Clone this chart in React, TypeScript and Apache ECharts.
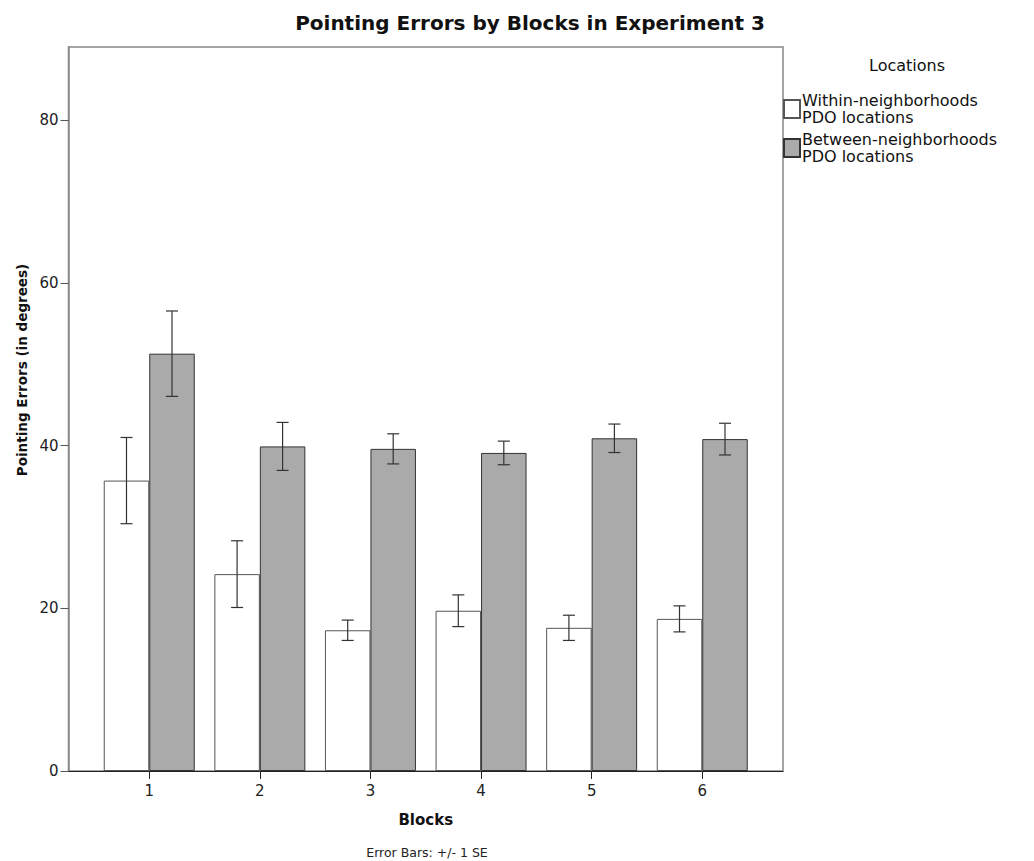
import React, { useEffect, useRef } from "react";
import * as echarts from "echarts";

// Blocks on the x axis
const blocks = [1, 2, 3, 4, 5, 6];
const blockTicks = ["1", "2", "3", "4", "5", "6"];

// Y axis ticks
const yTicks = [0, 20, 40, 60, 80];

// Mean pointing errors (degrees)
const withinMeans = [35.7, 24.2, 17.3, 19.7, 17.6, 18.7];
const betweenMeans = [51.3, 39.9, 39.6, 39.1, 40.9, 40.8];

// Standard errors (+/- 1 SE)
const withinSE = [5.3, 4.1, 1.25, 1.95, 1.55, 1.6];
const betweenSE = [5.25, 2.95, 1.85, 1.45, 1.75, 1.95];

const seriesNames = ["Within-neighborhoods\nPDO locations", "Between-neighborhoods\nPDO locations"];

const FONT = "DejaVu Sans";
const BAR_W = 45.5;

function errorSeries(means: number[], se: number[], offset: number) {
  return {
    type: "custom",
    silent: true,
    z: 5,
    data: blocks.map((b, i) => [b, means[i] - se[i], means[i] + se[i]]),
    renderItem: (params: any, api: any) => {
      const x = api.value(0);
      const lo = api.coord([x, api.value(1)]);
      const hi = api.coord([x, api.value(2)]);
      const cx = lo[0] + offset;
      const cap = 6;
      const style = { stroke: "#333", lineWidth: 1.2 };
      return {
        type: "group",
        children: [
          { type: "line", shape: { x1: cx, y1: lo[1], x2: cx, y2: hi[1] }, style },
          { type: "line", shape: { x1: cx - cap, y1: lo[1], x2: cx + cap, y2: lo[1] }, style },
          { type: "line", shape: { x1: cx - cap, y1: hi[1], x2: cx + cap, y2: hi[1] }, style },
        ],
      };
    },
  };
}

export default function App() {
  const ref = useRef<HTMLDivElement>(null);

  useEffect(() => {
    document.body.style.margin = "0";
    const chart = echarts.init(ref.current!, null, { renderer: "svg" });
    chart.setOption({
      animation: false,
      backgroundColor: "#fff",
      textStyle: { fontFamily: FONT },
      title: {
        text: "Pointing Errors by Blocks in Experiment 3",
        left: 525,
        top: 8,
        textAlign: "center",
        textStyle: { fontFamily: FONT, fontSize: 20, fontWeight: "bold", color: "#111" },
      },
      legend: {
        orient: "vertical",
        left: 783,
        top: 92,
        padding: 0,
        itemWidth: 16,
        itemHeight: 18,
        itemGap: 5,
        icon: "rect",
        data: seriesNames,
        textStyle: { fontFamily: FONT, fontSize: 16, color: "#111", lineHeight: 17, padding: [0, 0, 0, -3] },
      },
      grid: {
        left: 68.5,
        right: 251,
        top: 47,
        bottom: 90,
        show: true,
        borderColor: "#888",
        borderWidth: 1.5,
        containLabel: false,
      },
      xAxis: {
        type: "value",
        min: 0.27,
        max: 6.73,
        name: "Blocks",
        nameLocation: "middle",
        nameGap: 41,
        nameTextStyle: { fontFamily: FONT, fontSize: 15, fontWeight: "bold", color: "#111" },
        axisLine: { show: true, lineStyle: { color: "#222", width: 1 } },
        axisTick: {
          show: true,
          length: 8,
          customValues: blocks,
          lineStyle: { color: "#222" },
        },
        axisLabel: {
          customValues: blocks,
          formatter: (v: number) => blockTicks[blocks.indexOf(Math.round(v))] ?? "",
          fontFamily: FONT,
          fontSize: 15,
          color: "#222",
          margin: 12,
        },
        splitLine: { show: false },
      },
      yAxis: {
        type: "value",
        min: 0,
        max: 89,
        axisLine: { show: true, lineStyle: { color: "#888", width: 1.5 } },
        axisTick: { show: true, length: 8, customValues: yTicks, lineStyle: { color: "#555" } },
        axisLabel: { customValues: yTicks, fontFamily: FONT, fontSize: 15, color: "#222", margin: 10 },
        splitLine: { show: false },
      },
      series: [
        {
          name: seriesNames[0],
          type: "bar",
          barWidth: BAR_W,
          barGap: "0%",
          data: blocks.map((b, i) => [b, withinMeans[i]]),
          itemStyle: { color: "#ffffff", borderColor: "#555", borderWidth: 1 },
        },
        {
          name: seriesNames[1],
          type: "bar",
          barWidth: BAR_W,
          barGap: "0%",
          data: blocks.map((b, i) => [b, betweenMeans[i]]),
          itemStyle: { color: "#aaaaaa", borderColor: "#333", borderWidth: 1 },
        },
        errorSeries(withinMeans, withinSE, -BAR_W / 2),
        errorSeries(betweenMeans, betweenSE, BAR_W / 2),
      ],
      graphic: [
        {
          type: "text",
          x: 907,
          y: 65,
          style: {
            text: "Locations",
            fontFamily: FONT,
            fontSize: 16,
            fill: "#111",
            textAlign: "center",
            textVerticalAlign: "middle",
          },
        },
        {
          type: "text",
          x: 22,
          y: 370,
          rotation: Math.PI / 2,
          style: {
            text: "Pointing Errors (in degrees)",
            fontFamily: FONT,
            fontSize: 13.5,
            fontWeight: "bold",
            fill: "#111",
            textAlign: "center",
            textVerticalAlign: "middle",
          },
        },
        {
          type: "text",
          x: 427,
          y: 852,
          style: {
            text: "Error Bars: +/- 1 SE",
            fontFamily: FONT,
            fontSize: 12.5,
            fill: "#222",
            textAlign: "center",
            textVerticalAlign: "middle",
          },
        },
      ],
    });
    return () => chart.dispose();
  }, []);

  return <div ref={ref} style={{ width: 1034, height: 861 }} />;
}
